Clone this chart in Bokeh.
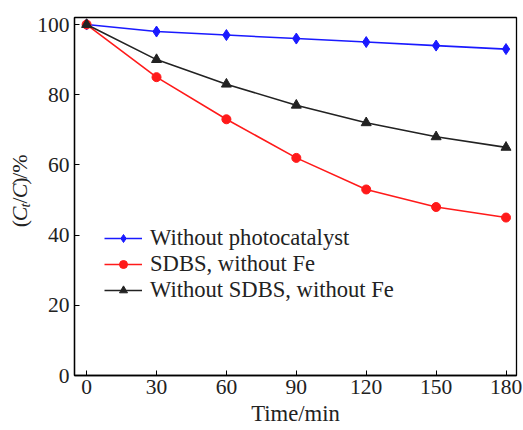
import math
from bokeh.plotting import figure
from bokeh.layouts import row
from bokeh.models import Range1d, Label, Legend, LegendItem, FixedTicker
from bokeh.embed import file_html
from bokeh.resources import INLINE

time_min = [0, 30, 60, 90, 120, 150, 180]
no_catalyst = [100, 98, 97, 96, 95, 94, 93]
sdbs_no_fe = [100, 85, 73, 62, 53, 48, 45]
no_sdbs_no_fe = [100, 90, 83, 77, 72, 68, 65]
series_names = ["Without photocatalyst", "SDBS, without Fe", "Without SDBS, without Fe"]
x_ticks = [0, 30, 60, 90, 120, 150, 180]
y_ticks = [0, 20, 40, 60, 80, 100]

FONT = "Liberation Serif"
LEFT_W = 34
H = 430

p = figure(width=523 - LEFT_W, height=H, output_backend="svg", toolbar_location=None,
           x_range=Range1d(-5.2, 184.5), y_range=Range1d(0, 102),
           min_border_left=73 - LEFT_W, min_border_right=7, min_border_top=17, min_border_bottom=55)
p.grid.visible = False
p.outline_line_color = "black"
p.outline_line_width = 1.3
p.background_fill_color = "white"
p.border_fill_color = "white"

for ax in (p.xaxis, p.yaxis):
    ax.major_tick_in = 5
    ax.major_tick_out = 0
    ax.minor_tick_in = 0
    ax.minor_tick_out = 0
    ax.major_label_text_font = FONT
    ax.major_label_text_font_size = "21.5px"
    ax.major_label_text_color = "#222222"
    ax.axis_line_color = "black"
    ax.axis_line_width = 1.3
    ax.major_tick_line_color = "black"
p.xaxis.ticker = FixedTicker(ticks=x_ticks)
p.yaxis.ticker = FixedTicker(ticks=y_ticks)
p.xaxis.major_label_standoff = 4
p.yaxis.major_label_standoff = 5
p.xaxis.axis_label = "Time/min"
p.xaxis.axis_label_text_font = FONT
p.xaxis.axis_label_text_font_size = "22.7px"
p.xaxis.axis_label_text_font_style = "normal"
p.xaxis.axis_label_text_color = "#222222"
p.xaxis.axis_label_standoff = 4

colors = ["#1a1aff", "#ff1a1a", "#222222"]
data = [no_catalyst, sdbs_no_fe, no_sdbs_no_fe]
markers = ["diamond", "circle", "triangle"]
sizes = [11, 9, 10]
items = []
for name, ys, c, m, s in zip(series_names, data, colors, markers, sizes):
    r1 = p.line(time_min, ys, line_color=c, line_width=1.6)
    r2 = p.scatter(time_min, ys, marker=m, size=s, fill_color=c, line_color=c)
    items.append(LegendItem(label=name, renderers=[r1, r2]))

legend = Legend(items=items, location=(30, 72), padding=0, margin=0, spacing=0,
                label_text_font=FONT, label_text_font_size="22.6px", label_text_color="#222222",
                label_height=24, glyph_height=20, glyph_width=38, label_standoff=8,
                border_line_alpha=0, background_fill_alpha=0)
p.add_layout(legend, "center")

# left strip holding the y-axis label "(C_t/C)/%"
lf = figure(width=LEFT_W, height=H, output_backend="svg", toolbar_location=None,
            x_range=Range1d(0, LEFT_W), y_range=Range1d(0, H),
            min_border=0, min_border_left=0, min_border_right=0,
            min_border_top=0, min_border_bottom=0)
lf.axis.visible = False
lf.grid.visible = False
lf.outline_line_color = None
lf.background_fill_color = "white"
lf.border_fill_color = "white"

pieces = [("(", "normal", 22, 0, 7.3), ("C", "italic", 22, 0, 16.5), ("t", "italic", 15, 5, 4.8),
          ("/", "normal", 22, 0, 6.4), ("C", "italic", 22, 0, 16.0), (")", "normal", 22, 0, 7.3),
          ("/%", "normal", 22, 0, 24.4)]
cur = 252.0
for txt, style, size, shift, w in pieces:
    lf.add_layout(Label(x=19 + shift, y=H - cur, text=txt, angle=math.pi / 2,
                        text_font=FONT, text_font_size=f"{size}px", text_font_style=style,
                        text_color="#222222", text_align="left", text_baseline="middle"))
    cur -= w

layout = row(lf, p, spacing=0)
open("out.html", "w").write(file_html(layout, INLINE))
